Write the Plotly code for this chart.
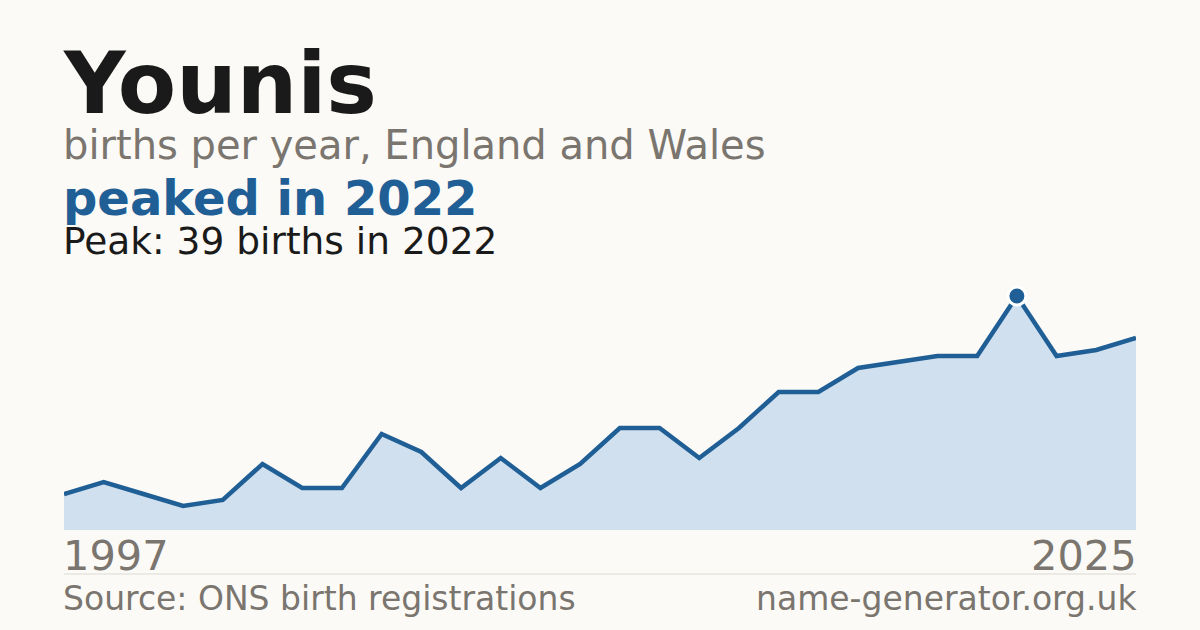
import plotly.graph_objects as go

# Births per year for the name Younis, England and Wales
years = list(range(1998, 2026))
births = [6, 8, 6, 4, 5, 11, 7, 7, 16, 13, 7, 12, 7, 11, 17, 17,
          12, 17, 23, 23, 27, 28, 29, 29, 39, 29, 30, 32]
peak_year = 2022
peak_births = 39

W, H = 1200, 630
LEFT, RIGHT = 64, 1136
TOP, BOTTOM = 273, 530
BG = "#fbfaf6"
BLUE = "#1f5f96"
GREY = "#7a756e"
INK = "#1a1a1a"
FONT = "DejaVu Sans"


def py(p):
    # pixel row -> paper y
    return (BOTTOM - p) / (BOTTOM - TOP)


fig = go.Figure()

fig.add_trace(go.Scatter(
    x=years, y=births,
    mode="lines",
    line=dict(color=BLUE, width=4.5),
    fill="tozeroy",
    fillcolor="#d0e0ef",
    hoverinfo="skip",
))

fig.add_trace(go.Scatter(
    x=[peak_year], y=[peak_births],
    mode="markers",
    marker=dict(size=18, color=BLUE, line=dict(color="white", width=3)),
    cliponaxis=False,
    hoverinfo="skip",
))


def note(text, px_y, size, color, bold=False, right=False):
    fig.add_annotation(
        text=f"<b>{text}</b>" if bold else text,
        xref="paper", yref="paper",
        x=1 if right else 0, y=py(px_y),
        xanchor="right" if right else "left", yanchor="middle",
        xshift=3 if right else -3,
        showarrow=False,
        font=dict(family=FONT, size=size, color=color),
    )


note("Younis", 83, 85, INK, bold=True)
note("births per year, England and Wales", 145, 40, GREY)
note("peaked in 2022", 198, 48, BLUE, bold=True)
note("Peak: 39 births in 2022", 241, 37.5, INK)
note("1997", 555.5, 41.5, GREY)
note("2025", 555.5, 41.5, GREY, right=True)
note("Source: ONS birth registrations", 598.5, 33, GREY)
note("name-generator.org.uk", 598.5, 33, GREY, right=True)

fig.add_shape(type="line", xref="paper", yref="paper",
              x0=0, x1=1, y0=py(574), y1=py(574),
              line=dict(color="#dcdad4", width=1))

fig.update_layout(
    width=W, height=H,
    margin=dict(l=LEFT, r=W - RIGHT, t=TOP, b=H - BOTTOM),
    paper_bgcolor=BG, plot_bgcolor=BG,
    showlegend=False,
    xaxis=dict(range=[1998, 2025], visible=False, fixedrange=True),
    yaxis=dict(range=[0, (BOTTOM - TOP) / 6], visible=False, fixedrange=True),
)

fig.write_html("out.html", config={"displayModeBar": False},
               post_script="document.body.style.margin='0';")
